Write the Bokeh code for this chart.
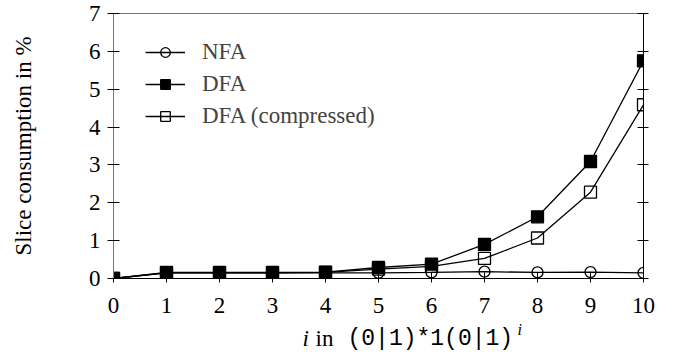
from bokeh.plotting import figure
from bokeh.layouts import column
from bokeh.models import (Range1d, LinearAxis, Legend, LegendItem, Label, FixedTicker,
                          CustomJSTickFormatter)
from bokeh.embed import file_html
from bokeh.resources import INLINE

x_vals = [0, 1, 2, 3, 4, 5, 6, 7, 8, 9, 10]
nfa = [0.0, 0.15, 0.15, 0.15, 0.15, 0.15, 0.16, 0.18, 0.16, 0.17, 0.15]
dfa = [0.0, 0.16, 0.16, 0.16, 0.17, 0.29, 0.38, 0.90, 1.63, 3.09, 5.75]
dfa_comp = [0.0, 0.15, 0.15, 0.15, 0.16, 0.25, 0.32, 0.53, 1.07, 2.28, 4.59]
x_ticks = [0, 1, 2, 3, 4, 5, 6, 7, 8, 9, 10]
y_ticks = [0, 1, 2, 3, 4, 5, 6, 7]

SERIF = "Liberation Serif"
MONO = "Liberation Mono"
FS = "23px"

p = figure(width=681, height=320, output_backend="svg", toolbar_location=None,
           x_range=Range1d(0, 10), y_range=Range1d(0, 7),
           min_border_left=113, min_border_right=38, min_border_top=13, min_border_bottom=42)
p.grid.visible = False
p.outline_line_color = "#777777"
p.outline_line_width = 1
p.background_fill_color = "white"

for ax in [p.xaxis[0], p.yaxis[0]]:
    ax.major_label_text_font = SERIF
    ax.major_label_text_font_size = FS
    ax.major_label_text_color = "black"
    ax.minor_tick_line_color = None
    ax.major_tick_line_color = "black"
    ax.axis_line_color = "black"

p.xaxis[0].ticker = FixedTicker(ticks=x_ticks)
p.xaxis[0].major_tick_in = 6
p.xaxis[0].major_tick_out = 4
p.xaxis[0].major_label_standoff = 15
p.xaxis[0].axis_label = None

p.yaxis[0].ticker = FixedTicker(ticks=y_ticks)
p.yaxis[0].major_tick_in = 6
p.yaxis[0].major_tick_out = 6
p.yaxis[0].major_label_standoff = 7
p.yaxis[0].axis_line_color = "#777777"
p.yaxis[0].axis_label = "Slice consumption in %"
p.yaxis[0].axis_label_text_font = SERIF
p.yaxis[0].axis_label_text_font_size = FS
p.yaxis[0].axis_label_text_font_style = "normal"
p.yaxis[0].axis_label_text_color = "black"
p.yaxis[0].axis_label_standoff = 50

right = LinearAxis(ticker=FixedTicker(ticks=y_ticks),
                   formatter=CustomJSTickFormatter(code="return '';"))
right.major_tick_in = 6
right.major_tick_out = 5
right.minor_tick_line_color = None
right.major_label_standoff = 0
right.axis_line_color = "black"
p.add_layout(right, "right")

# series
LW = 1.3
l1 = p.line(x_vals, nfa, line_color="black", line_width=LW)
s1 = p.scatter(x_vals, nfa, marker="circle", size=11, fill_color=None, line_color="black", line_width=LW)
l2 = p.line(x_vals, dfa, line_color="black", line_width=LW)
s2 = p.scatter(x_vals, dfa, marker="square", size=12, fill_color="black", line_color="black", line_width=LW)
l3 = p.line(x_vals, dfa_comp, line_color="black", line_width=LW)
s3 = p.scatter(x_vals, dfa_comp, marker="square", size=12, fill_color=None, line_color="black", line_width=LW)

legend = Legend(items=[
    LegendItem(label="NFA", renderers=[l1, s1]),
    LegendItem(label="DFA", renderers=[l2, s2]),
    LegendItem(label="DFA (compressed)", renderers=[l3, s3]),
], location=(32, 149))
legend.label_text_font = SERIF
legend.label_text_font_size = FS
legend.label_standoff = 17
legend.glyph_width = 40
legend.glyph_height = 24
legend.label_height = 24
legend.spacing = 6
legend.padding = 0
legend.margin = 0
legend.border_line_color = None
legend.background_fill_alpha = 0
p.add_layout(legend, "center")

# x axis title strip: math italic i, roman "in", typewriter regex, superscript i
q = figure(width=681, height=34, output_backend="svg", toolbar_location=None,
           x_range=Range1d(0, 1), y_range=Range1d(0, 1),
           x_axis_location=None, y_axis_location=None, min_border=0,
           min_border_left=0, min_border_right=0, min_border_top=0, min_border_bottom=0)
q.grid.visible = False
q.outline_line_color = None
q.background_fill_color = "white"
q.border_fill_color = "white"

base_y = 16
pieces = [
    Label(x=189, y=base_y, text="i", text_font=SERIF, text_font_style="italic", text_font_size=FS),
    Label(x=202, y=base_y, text="in", text_font=SERIF, text_font_size=FS),
    Label(x=234, y=base_y, text="(0|1)*1(0|1)", text_font=MONO, text_font_size=FS),
    Label(x=404, y=base_y + 9, text="i", text_font=SERIF, text_font_style="italic", text_font_size="16px"),
]
for lab in pieces:
    lab.x_units = "screen"
    lab.y_units = "screen"
    lab.text_baseline = "alphabetic"
    lab.text_color = "black"
    q.add_layout(lab)

layout = column(p, q, spacing=0)
open("out.html", "w").write(file_html(layout, INLINE))
